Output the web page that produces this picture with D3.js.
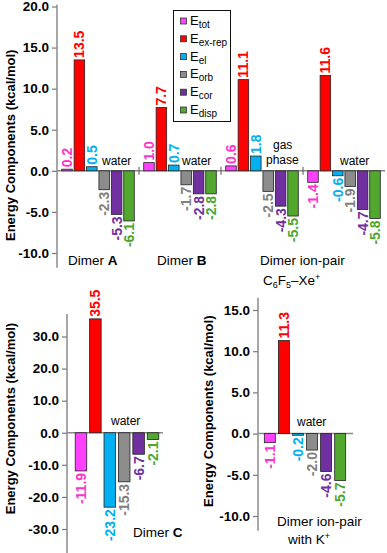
<!DOCTYPE html>
<html>
<head>
<meta charset="utf-8">
<script src="https://cdn.jsdelivr.net/npm/d3@7"></script>
<style>
  body { margin: 0; background: #fff; }
  svg { display: block; font-family: "Liberation Sans", Arial, sans-serif; }
</style>
</head>
<body>
<div id="chart"></div>
<script>
// energy components (kcal/mol)
var components = ["tot", "ex-rep", "el", "orb", "cor", "disp"];
var barColors = ["#ff40ff", "#ff0000", "#00b0f0", "#8c8c8c", "#7030a0", "#52a82e"];
var labelColors = ["#ff33cc", "#ff0000", "#00b0f0", "#808080", "#7030a0", "#4ca62c"];

var topCategories = ["Dimer A water", "Dimer B water", "Ion-pair gas phase", "Ion-pair water"];
var dimerA = [0.2, 13.5, 0.5, -2.3, -5.3, -6.1];
var dimerB = [1.0, 7.7, 0.7, -1.7, -2.8, -2.8];
var ionPairGas = [0.6, 11.1, 1.8, -2.5, -4.3, -5.5];
var ionPairWater = [-1.4, 11.6, -0.6, -1.9, -4.7, -5.8];
var dimerC = [-11.9, 35.5, -23.2, -15.3, -6.7, -2.1];
var ionPairK = [-1.1, 11.3, -0.2, -2.0, -4.6, -5.7];

var topTicks = [-10, -5, 0, 5, 10, 15, 20];
var cTicks = [-30, -20, -10, 0, 10, 20, 30];
var kTicks = [-10, -5, 0, 5, 10, 15];

var W = 387, H = 553;
var svg = d3.select("#chart").append("svg").attr("width", W).attr("height", H);

function drawPanel(cfg) {
    var g = svg.append("g");
    var y = d3.scaleLinear().domain(cfg.domain).range(cfg.yRange);
    var x = d3.scaleBand().domain(cfg.categories).range(cfg.xRange).paddingInner(0).paddingOuter(0);
    var xi = d3.scaleBand().domain(components).range([0, x.bandwidth()])
        .paddingInner(cfg.pad).paddingOuter(cfg.outer);

    // zero line
    g.append("line")
        .attr("x1", cfg.xRange[0]).attr("x2", cfg.xRange[1] + cfg.zeroExtra)
        .attr("y1", y(0)).attr("y2", y(0))
        .attr("stroke", "#8a8a8a").attr("stroke-width", 1.5);

    // separators between categories on the zero line
    cfg.categories.slice(1).forEach(function(c) {
        g.append("line")
            .attr("x1", x(c)).attr("x2", x(c))
            .attr("y1", y(0) - 4).attr("y2", y(0) + 4)
            .attr("stroke", "#555").attr("stroke-width", 1);
    });

    cfg.categories.forEach(function(c, ci) {
        var vals = cfg.values[ci];
        var grp = g.append("g").attr("transform", "translate(" + x(c) + ",0)");
        grp.selectAll("rect").data(vals).enter().append("rect")
            .attr("x", function(d, i) { return xi(components[i]); })
            .attr("width", xi.bandwidth())
            .attr("y", function(d) { return y(Math.max(0, d)); })
            .attr("height", function(d) { return Math.abs(y(d) - y(0)); })
            .attr("fill", function(d, i) { return barColors[i]; })
            .attr("stroke", "#222").attr("stroke-width", 0.8);

        grp.selectAll("text.val").data(vals).enter().append("text")
            .attr("class", "val")
            .attr("transform", function(d, i) {
                var cx = xi(components[i]) + xi.bandwidth() / 2;
                var cy = d >= 0 ? y(d) - 2 : y(d) + 2;
                return "translate(" + cx + "," + cy + ") rotate(-90)";
            })
            .attr("text-anchor", function(d) { return d >= 0 ? "start" : "end"; })
            .attr("dominant-baseline", "central")
            .attr("font-size", 14).attr("font-weight", "bold")
            .attr("fill", function(d, i) { return labelColors[i]; })
            .text(function(d) { return d.toFixed(1); });
    });

    // y axis
    var axis = d3.axisLeft(y).tickValues(cfg.ticks).tickSize(5).tickSizeOuter(0)
        .tickFormat(function(d) { return d.toFixed(1); });
    var ax = g.append("g").attr("transform", "translate(" + cfg.xRange[0] + ",0)").call(axis);
    ax.select(".domain").remove();
    ax.selectAll(".tick line").attr("stroke", "#777").attr("stroke-width", 1.2);
    ax.selectAll(".tick text").attr("font-size", 13.5).attr("font-weight", "bold")
        .attr("fill", "#000").attr("font-family", "Liberation Sans, Arial, sans-serif");
    g.append("line")
        .attr("x1", cfg.xRange[0]).attr("x2", cfg.xRange[0])
        .attr("y1", y(cfg.axisExtent[1])).attr("y2", y(cfg.axisExtent[0]))
        .attr("stroke", "#8a8a8a").attr("stroke-width", 1.5);

    // y title
    g.append("text")
        .attr("transform", "translate(" + cfg.titleX + "," + ((y(cfg.axisExtent[0]) + y(cfg.axisExtent[1])) / 2 + cfg.titleShift) + ") rotate(-90)")
        .attr("text-anchor", "middle").attr("dominant-baseline", "central")
        .attr("font-size", 13).attr("font-weight", "bold")
        .text("Energy Components (kcal/mol)");
    return g;
}

function note(str, x0, y0, size) {
    svg.append("text").attr("x", x0).attr("y", y0).attr("font-size", size || 12).text(str);
}

function dimerLabel(x0, y0, letter) {
    var t = svg.append("text").attr("x", x0).attr("y", y0).attr("font-size", 13.5);
    t.append("tspan").text("Dimer ");
    t.append("tspan").attr("font-weight", "bold").text(letter);
}

// top panel
drawPanel({
    categories: topCategories,
    values: [dimerA, dimerB, ionPairGas, ionPairWater],
    domain: [-10, 20], yRange: [253, 6.5], axisExtent: [-11.8, 20.2],
    xRange: [57, 385], zeroExtra: 0, pad: 0.15, outer: 0.38,
    ticks: topTicks, titleX: 10, titleShift: 9
});

// bottom-left panel: dimer C
drawPanel({
    categories: ["Dimer C water"],
    values: [dimerC],
    domain: [-30, 30], yRange: [529, 336.5], axisExtent: [-37.5, 37],
    xRange: [67, 167], zeroExtra: -4, pad: 0.2, outer: 0.57,
    ticks: cTicks, titleX: 10, titleShift: -15
});

// bottom-right panel: ion-pair with K+
drawPanel({
    categories: ["Ion-pair K water"],
    values: [ionPairK],
    domain: [-10, 15], yRange: [516, 310], axisExtent: [-11.8, 16.5],
    xRange: [258, 352], zeroExtra: 1, pad: 0.22, outer: 0.45,
    ticks: kTicks, titleX: 208, titleShift: -3
});

// annotations, top panel
note("water", 102, 165);
note("water", 182, 165);
note("gas", 273, 149);
note("phase", 266, 164);
note("water", 340, 165);
dimerLabel(68, 265, "A");
dimerLabel(157, 265, "B");
note("Dimer ion-pair", 260, 265, 13.5);
var cx = svg.append("text").attr("x", 263).attr("y", 285).attr("font-size", 13.5);
cx.append("tspan").text("C");
cx.append("tspan").attr("font-size", 9).attr("dy", 3).text("6");
cx.append("tspan").attr("dy", -3).text("F");
cx.append("tspan").attr("font-size", 9).attr("dy", 3).text("5");
cx.append("tspan").attr("dy", -3).text("\u2013Xe");
cx.append("tspan").attr("font-size", 9).attr("dy", -5).text("+");

// annotations, bottom panels
note("water", 111, 425);
dimerLabel(133, 537, "C");
note("water", 297, 426);
note("Dimer ion-pair", 277, 526, 13.5);
var wk = svg.append("text").attr("x", 288).attr("y", 544).attr("font-size", 13.5);
wk.append("tspan").text("with K");
wk.append("tspan").attr("font-size", 9).attr("dy", -5).text("+");

// legend
var leg = svg.append("g");
leg.append("rect").attr("x", 173.5).attr("y", 10.5).attr("width", 57).attr("height", 111)
    .attr("fill", "#fff").attr("stroke", "#111").attr("stroke-width", 1);
components.forEach(function(c, i) {
    var cy = 21 + i * 17.8;
    leg.append("rect").attr("x", 180.5).attr("y", cy - 3).attr("width", 6).attr("height", 6)
        .attr("fill", barColors[i]).attr("stroke", "#333").attr("stroke-width", 0.8);
    var t = leg.append("text").attr("x", 190).attr("y", cy + 4).attr("font-size", 13);
    t.append("tspan").text("E");
    t.append("tspan").attr("font-size", 10).attr("dy", 3).text(c);
});
</script>
</body>
</html>
